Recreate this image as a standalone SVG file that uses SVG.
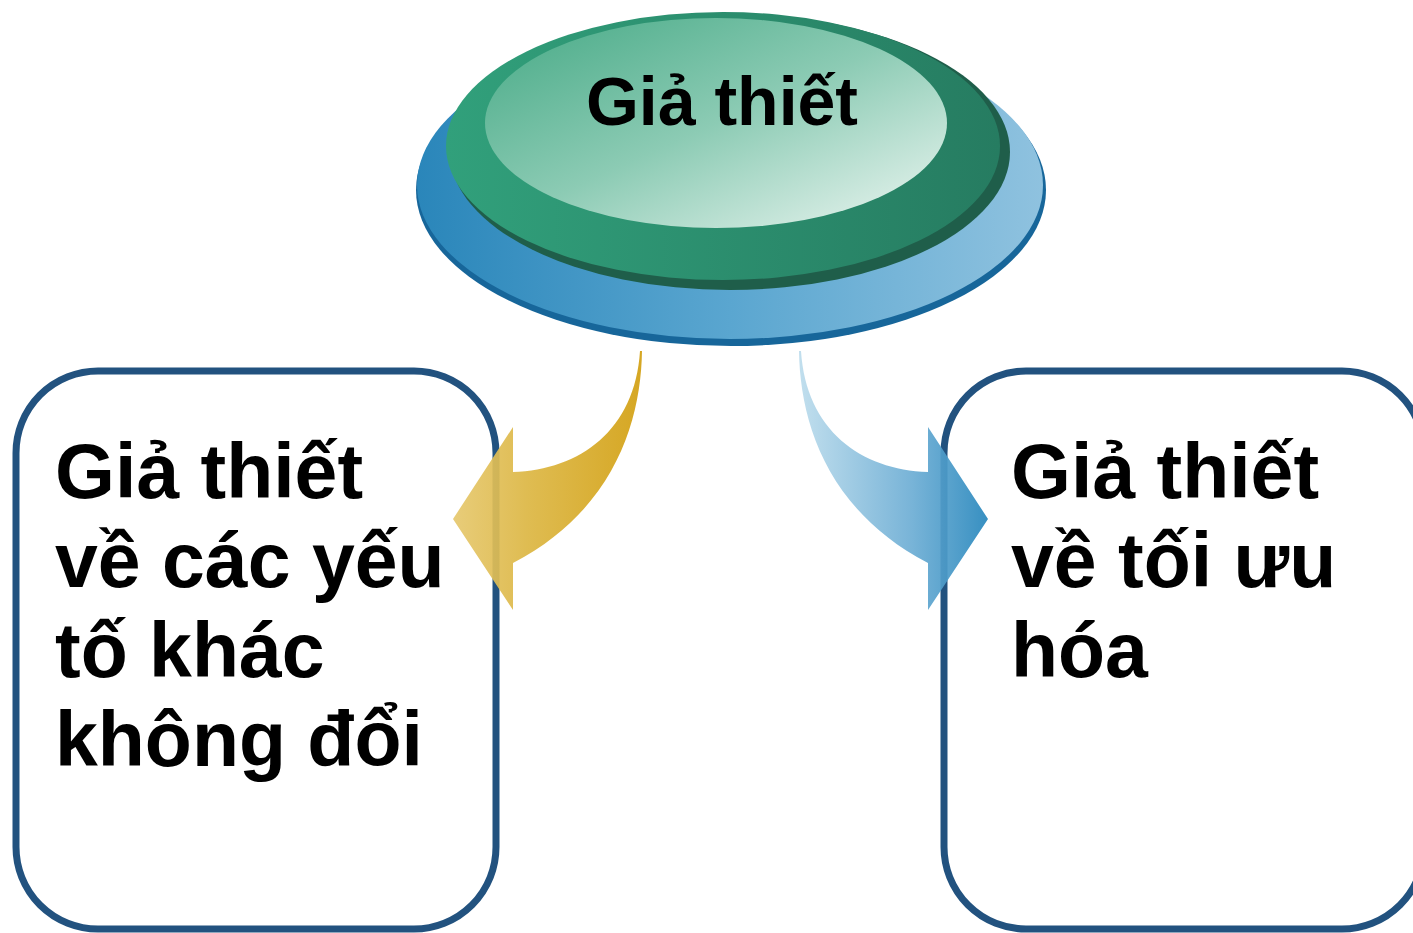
<svg xmlns="http://www.w3.org/2000/svg" width="1413" height="933" viewBox="0 0 1413 933">
<defs>
<linearGradient id="gBlue" x1="0" y1="0" x2="1" y2="0">
<stop offset="0" stop-color="#2a86ba"/><stop offset="0.5" stop-color="#5aa6d0"/><stop offset="1" stop-color="#8fc2df"/>
</linearGradient>
<linearGradient id="gGreen" x1="0" y1="0" x2="1" y2="0">
<stop offset="0" stop-color="#31a07b"/><stop offset="1" stop-color="#267c61"/>
</linearGradient>
<linearGradient id="gInner" x1="0" y1="0" x2="1" y2="1">
<stop offset="0" stop-color="#45a985"/><stop offset="0.5" stop-color="#8ccbb4"/><stop offset="1" stop-color="#eef7f3"/>
</linearGradient>
<linearGradient id="gGold" x1="0" y1="0" x2="1" y2="0">
<stop offset="0" stop-color="#e6c86e"/><stop offset="0.4" stop-color="#dcb642"/><stop offset="1" stop-color="#d29f10"/>
</linearGradient>
<linearGradient id="gArrowBlue" x1="0" y1="0" x2="1" y2="0">
<stop offset="0" stop-color="#bcdcec"/><stop offset="0.6" stop-color="#6cadd4"/><stop offset="1" stop-color="#2686bc"/>
</linearGradient>
<style>
.box{fill:#ffffff;stroke:#22527f;stroke-width:7}
.txt{font-family:"Liberation Sans",Arial,sans-serif;font-weight:bold;fill:#000000}
.big{font-size:77px}
</style>
</defs>
<g id="box-left">
<rect class="box" x="16" y="371" width="480" height="558" rx="82" ry="82"/>
<text class="txt big" x="55" y="498">Giả thiết</text>
<text class="txt big" x="55" y="587">về các yếu</text>
<text class="txt big" x="55" y="677">tố khác</text>
<text class="txt big" x="55" y="766">không đổi</text>
</g>
<g id="box-right">
<rect class="box" x="944" y="371" width="480" height="558" rx="82" ry="82"/>
<text class="txt big" x="1011" y="498">Giả thiết</text>
<text class="txt big" x="1011" y="587">về tối ưu</text>
<text class="txt big" x="1011" y="677">hóa</text>
</g>
<g id="node-top">
<ellipse cx="731" cy="190" rx="315" ry="156" fill="#17669a"/>
<ellipse cx="730" cy="185" rx="313" ry="154" fill="url(#gBlue)"/>
<ellipse cx="730" cy="152" rx="280" ry="138" fill="#1f5e4a"/>
<ellipse cx="723" cy="146" rx="277" ry="134" fill="url(#gGreen)"/>
<ellipse cx="716" cy="123" rx="231" ry="105" fill="url(#gInner)"/>
<text class="txt" x="722" y="125" font-size="68" text-anchor="middle">Giả thiết</text>
</g>
<g id="connectors" opacity="0.92">
<path d="M642,351 C641,420 615,510 513,563 L513,610 L453,519 L513,427 L513,472 C580,470 635,430 640,351 Z" fill="url(#gGold)"/>
<path d="M799,351 C800,420 826,510 928,563 L928,610 L988,519 L928,427 L928,472 C861,470 806,430 801,351 Z" fill="url(#gArrowBlue)"/>
</g>
</svg>
